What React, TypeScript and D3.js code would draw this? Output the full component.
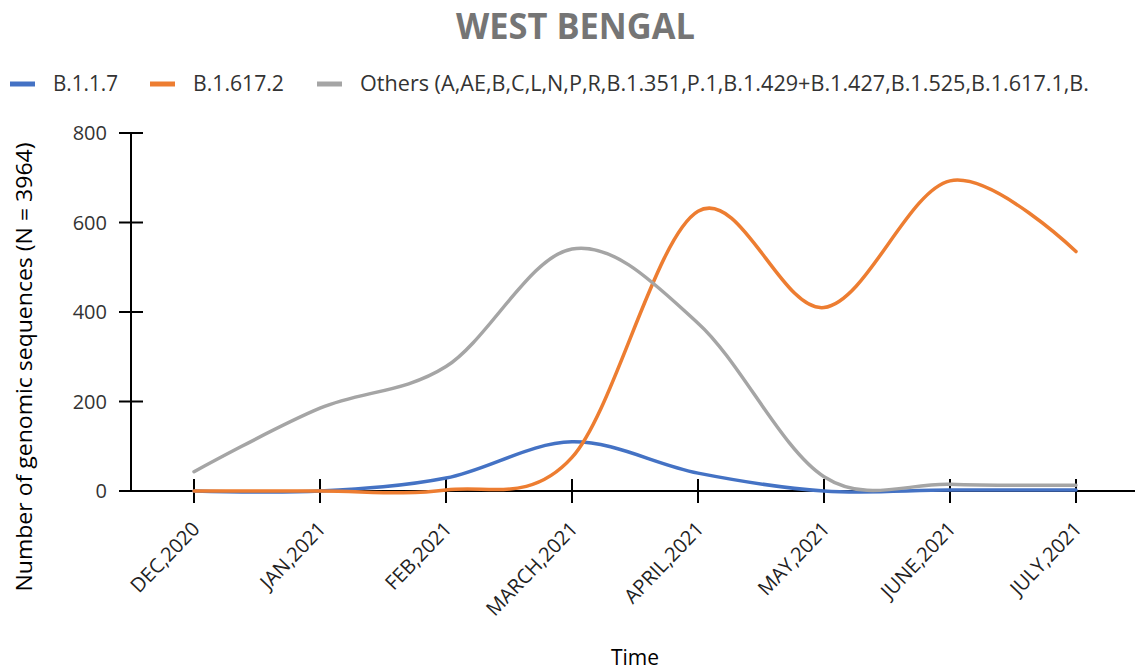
import React from "react";
import * as d3 from "d3";

const months = ["DEC,2020", "JAN,2021", "FEB,2021", "MARCH,2021", "APRIL,2021", "MAY,2021", "JUNE,2021", "JULY,2021"];
const b117 = [0, 0, 29, 110, 40, 0, 2, 2];
const b16172 = [0, 0, 2, 75, 625, 410, 693, 535];
const others = [43, 185, 278, 541, 375, 32, 15, 13];
const yTicks = [0, 200, 400, 600, 800];

const seriesNames = ["B.1.1.7", "B.1.617.2", "Others (A,AE,B,C,L,N,P,R,B.1.351,P.1,B.1.429+B.1.427,B.1.525,B.1.617.1,B."];
const seriesColors = ["#4472C4", "#ED7D31", "#A5A5A5"];
const seriesData = [b117, b16172, others];

const W = 1135;
const H = 672;

export default function App() {
  const x = d3.scalePoint<string>().domain(months).range([131, 1139]).padding(0.5);
  const y = d3.scaleLinear().domain([0, 800]).range([491, 133]);
  const line = d3
    .line<number>()
    .x((_, i) => x(months[i]) as number)
    .y((d) => y(d))
    .curve(d3.curveCardinal.tension(0));

  const font = "'Open Sans', sans-serif";
  const legendX = [10, 150, 317];
  const legendTextW = [65, 91, 729];

  return (
    <svg width={W} height={H} style={{ position: "absolute", left: 0, top: 0, background: "#fff" }} fontFamily={font}>
      <rect x={0} y={0} width={W} height={H} fill="#fff" />
      <text x={575.5} y={39} textAnchor="middle" fontSize={36} fontWeight="bold" fill="#757575" textLength={239} lengthAdjust="spacingAndGlyphs">
        WEST BENGAL
      </text>
      {seriesNames.map((n, i) => (
        <g key={n}>
          <line x1={legendX[i]} x2={legendX[i] + 25} y1={84} y2={84} stroke={seriesColors[i]} strokeWidth={5} />
          <text x={legendX[i] + 43} y={91} fontSize={22} fill="#333" textLength={legendTextW[i]} lengthAdjust="spacingAndGlyphs">
            {n}
          </text>
        </g>
      ))}
      {/* y axis */}
      <line x1={131} x2={131} y1={y(800)} y2={y(0)} stroke="#000" strokeWidth={2} />
      {yTicks.map((t) => (
        <g key={t}>
          <line x1={119} x2={143} y1={y(t)} y2={y(t)} stroke="#000" strokeWidth={2} />
          <text x={107} y={y(t) + 7} textAnchor="end" fontSize={20} fill="#333">
            {t}
          </text>
        </g>
      ))}
      {/* x axis */}
      <line x1={119} x2={1135} y1={y(0)} y2={y(0)} stroke="#000" strokeWidth={2} />
      {months.map((m) => (
        <g key={m}>
          <line x1={x(m)} x2={x(m)} y1={479} y2={503} stroke="#000" strokeWidth={2} />
          <text transform={`translate(${(x(m) as number) + 7},${530}) rotate(-46)`} textAnchor="end" fontSize={20} fill="#222">
            {m}
          </text>
        </g>
      ))}
      {seriesData.map((s, i) => (
        <path key={i} d={line(s) || ""} fill="none" stroke={seriesColors[i]} strokeWidth={3.5} strokeLinecap="round" />
      ))}
      <text transform="translate(32,367) rotate(-90)" textAnchor="middle" fontSize={21} fill="#000" textLength={449} lengthAdjust="spacingAndGlyphs">
        Number of genomic sequences (N = 3964)
      </text>
      <text x={635} y={665} textAnchor="middle" fontSize={21} fill="#000">
        Time
      </text>
    </svg>
  );
}
